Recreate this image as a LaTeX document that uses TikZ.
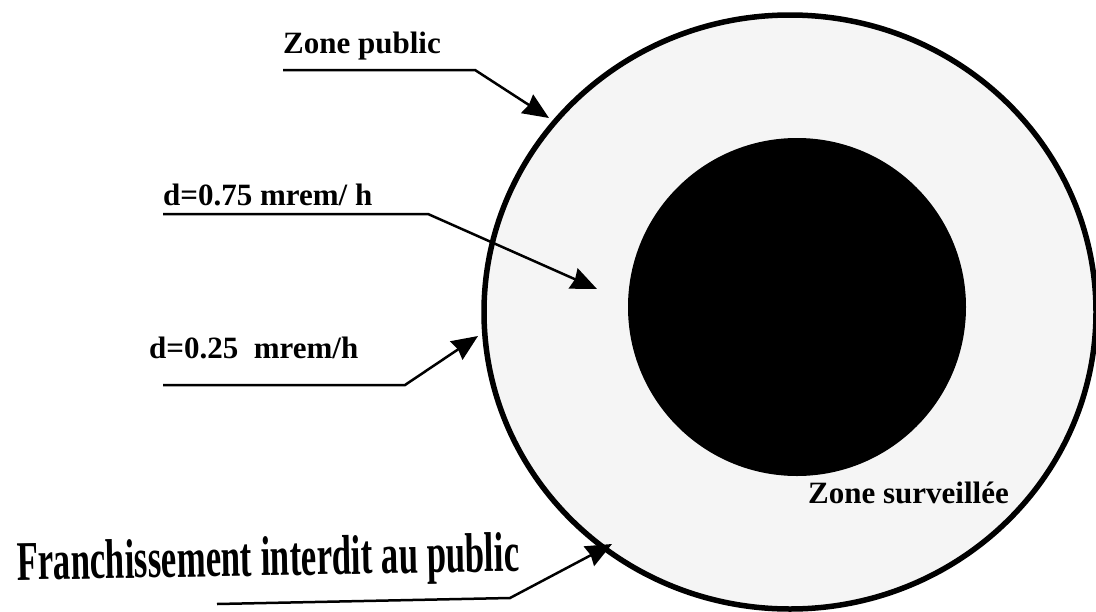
\documentclass[tikz,border=0pt]{standalone}
\usepackage{fontspec}
\setmainfont{Liberation Serif}
\newfontfamily\narrowfont{Liberation Serif}[FakeStretch=0.62]
\usetikzlibrary{arrows.meta}
\tikzstyle{zonetext} = [inner sep=0pt, anchor=base west, font=\fontsize{31}{34}\selectfont\bfseries]
\tikzstyle{bigtext} = [inner sep=0pt, anchor=base west, font=\fontsize{56}{60}\selectfont\narrowfont\bfseries]
\tikzstyle{arrow} = [line width=2.5pt, -{Stealth[length=26pt,width=22pt,inset=2pt]}]

\begin{document}
\begin{tikzpicture}[x=1pt, y=-1pt]
      \useasboundingbox (0,0) rectangle (1096,611);

      % Zones
      \draw [line width=5.5pt, fill=black!4] (790,312) ellipse [x radius=306pt, y radius=297pt];
      \fill [black] (797,307) circle [radius=169pt];

      \node (zp) [zonetext] at (283,53) {Zone public};
      \node (d75) [zonetext] at (163,205) {d=0.75 mrem/ h};
      \node (d25) [zonetext] at (149,358) {d=0.25\ \ mrem/h};
      \node (zs) [zonetext] at (808,503) {Zone surveillée};
      \node (fr) [bigtext, rotate=1] at (17,580) {Franchissement interdit au public};

      \coordinate (zpbend) at (475,70);
      \coordinate (zptip) at (549,118);
      \coordinate (d75bend) at (428,214);
      \coordinate (d75tip) at (597,289);
      \coordinate (d25bend) at (405,385);
      \coordinate (d25tip) at (478,336);
      \coordinate (frbend) at (510,598);
      \coordinate (frtip) at (612,544);

      % Arrows
      \draw [arrow] (zp.base west |- zpbend) -- (zpbend) -- (zptip);
      \draw [arrow] (d75.base west |- d75bend) -- (d75bend) -- (d75tip);
      \draw [arrow] ([xshift=14pt]d25.base west |- d25bend) -- (d25bend) -- (d25tip);
      \draw [arrow] ([xshift=200pt]fr.base west |- 0,604) -- (frbend) -- (frtip);

\end{tikzpicture}
\end{document}
